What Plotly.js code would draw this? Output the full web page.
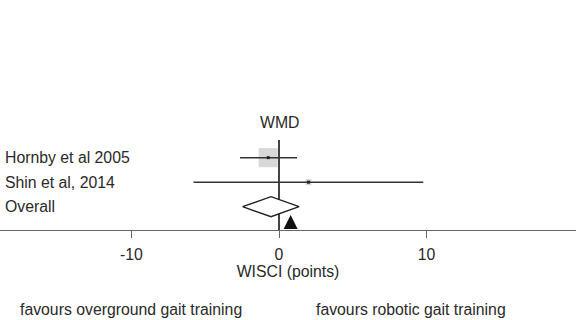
<!DOCTYPE html>
<html>
<head>
<meta charset="utf-8">
<script src="https://cdn.plot.ly/plotly-3.0.1.min.js"></script>
<style>html,body{margin:0;padding:0;background:#fff;}#chart{width:576px;height:320px;}</style>
</head>
<body>
<div id="chart"></div>
<script>
// ---- data ----
var studies = ['Hornby et al 2005', 'Shin et al, 2014'];
var studyWMD = [-0.73, 2.0];
var studyLow = [-2.64, -5.8];
var studyHigh = [1.22, 9.78];
var studyWeight = [91, 9];           // percent weight
var studyRow = [3, 2];
var overallLabel = 'Overall';
var overallWMD = -0.54;
var overallLow = -2.47;
var overallHigh = 1.36;
var overallRow = 1;
var markerX = [0.79];                // arrow marker on the axis
var markerY = [0.66];
var tickValues = [-10, 0, 10];
var tickLabels = ['-10', '0', '10'];
var axisTitle = 'WISCI (points)';
var columnTitle = 'WMD';
var favoursLeft = 'favours overground gait training';
var favoursRight = 'favours robotic gait training';

// ---- traces ----
var FONT = 'Liberation Sans, Arial, sans-serif';
var TXT = '#2a2a2a';
var FS = 15.8;
var diamondHalf = 0.41;

var squares = {
  type: 'scatter', mode: 'markers', x: studyWMD, y: studyRow,
  marker: {symbol: 'square', color: '#c8c8c8',
    size: studyWeight.map(function (w) { return 2 * Math.sqrt(w); }), line: {width: 0}},
  hoverinfo: 'skip', showlegend: false
};
var cis = {
  type: 'scatter', mode: 'markers', x: studyWMD, y: studyRow,
  marker: {symbol: 'square', color: '#222', size: 3},
  error_x: {type: 'data', symmetric: false,
    array: studyHigh.map(function (h, i) { return h - studyWMD[i]; }),
    arrayminus: studyLow.map(function (l, i) { return studyWMD[i] - l; }),
    width: 0, thickness: 1.5, color: '#333'},
  showlegend: false
};
var diamond = {
  type: 'scatter', mode: 'lines',
  x: [overallLow, overallWMD, overallHigh, overallWMD, overallLow],
  y: [overallRow, overallRow + diamondHalf, overallRow, overallRow - diamondHalf, overallRow],
  fill: 'toself', fillcolor: '#fff', line: {color: '#222', width: 1.4},
  showlegend: false
};
var arrow = {
  type: 'scatter', mode: 'markers', x: markerX, y: markerY,
  marker: {symbol: 'arrow-up', size: 14, color: '#111', line: {width: 0}},
  showlegend: false
};

var labels = studies.concat([overallLabel]);
var labelRows = studyRow.concat([overallRow]);
var annotations = labels.map(function (t, i) {
  return {xref: 'paper', yref: 'y', x: 0, y: labelRows[i], xshift: 3, text: t,
    showarrow: false, xanchor: 'left', yanchor: 'middle',
    font: {family: FONT, size: FS, color: TXT}};
});
annotations.push({xref: 'x', yref: 'paper', x: 0, y: 1, yshift: 18, text: columnTitle,
  showarrow: false, xanchor: 'center', yanchor: 'middle',
  font: {family: FONT, size: FS, color: TXT}});
annotations.push({xref: 'paper', yref: 'paper', x: 18 / 576, y: 0, yshift: -79, text: favoursLeft,
  showarrow: false, xanchor: 'left', yanchor: 'middle',
  font: {family: FONT, size: FS, color: TXT}});
annotations.push({xref: 'paper', yref: 'paper', x: 314 / 576, y: 0, yshift: -79, text: favoursRight,
  showarrow: false, xanchor: 'left', yanchor: 'middle',
  font: {family: FONT, size: FS, color: TXT}});

var layout = {
  width: 576, height: 320,
  margin: {l: 0, r: 0, t: 140, b: 90, pad: 0},
  paper_bgcolor: '#fff', plot_bgcolor: '#fff',
  showlegend: false,
  xaxis: {
    range: [-18.915, 20.136], tickvals: tickValues, ticktext: tickLabels,
    ticks: 'outside', ticklen: 7, tickcolor: '#666', tickwidth: 1,
    ticklabelstandoff: 3,
    showline: true, linecolor: '#666', linewidth: 1.2,
    showgrid: false, zeroline: true, zerolinecolor: '#444', zerolinewidth: 1.2,
    tickfont: {family: FONT, size: FS, color: TXT},
    title: {text: axisTitle, font: {family: FONT, size: FS, color: TXT}, standoff: 3},
    fixedrange: true
  },
  yaxis: {range: [0.05, 3.72], visible: false, fixedrange: true},
  annotations: annotations
};

Plotly.newPlot('chart', [squares, cis, diamond, arrow], layout, {staticPlot: true, displayModeBar: false});
</script>
</body>
</html>
